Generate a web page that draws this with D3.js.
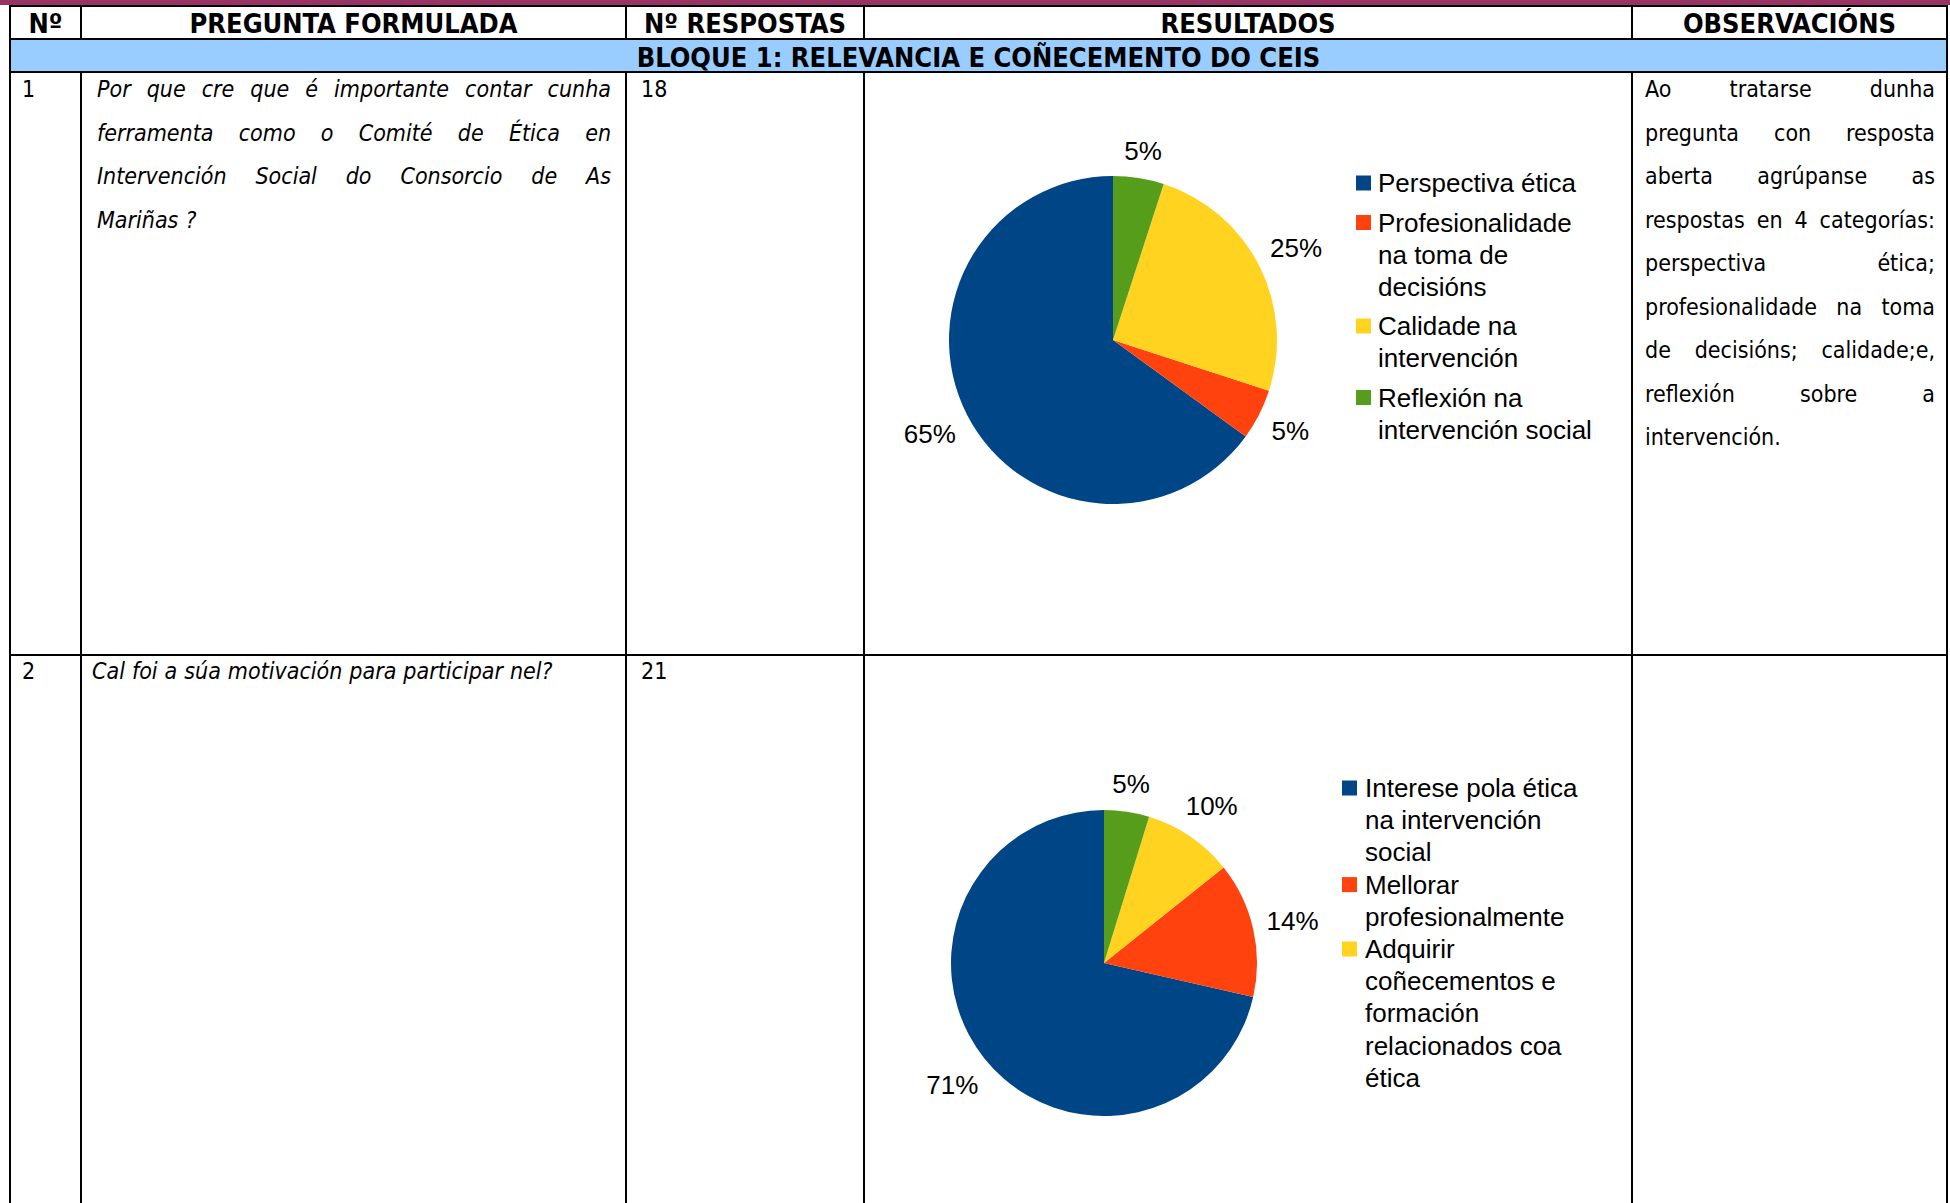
<!DOCTYPE html>
<html>
<head>
<meta charset="utf-8">
<script src="https://cdn.jsdelivr.net/npm/d3@7"></script>
<style>
  body { margin: 0; background: #fff; }
  svg { display: block; }
</style>
</head>
<body>
<svg id="chart"></svg>
<script>
const W = 1950, H = 1203;

// table content
const headers = ["Nº", "PREGUNTA FORMULADA", "Nº RESPOSTAS", "RESULTADOS", "OBSERVACIÓNS"];
const blockTitle = "BLOQUE 1: RELEVANCIA E COÑECEMENTO DO CEIS";
const rowNumbers = ["1", "2"];
const answerCounts = ["18", "21"];
const question1 = ["Por que cre que é importante contar cunha", "ferramenta como o Comité de Ética en",
  "Intervención Social do Consorcio de As", "Mariñas ?"];
const question2 = ["Cal foi a súa motivación para participar nel?"];
const observation1 = ["Ao tratarse dunha", "pregunta con resposta", "aberta agrúpanse as",
  "respostas en 4 categorías:", "perspectiva ética;", "profesionalidade na toma",
  "de decisións; calidade;e,", "reflexión sobre a", "intervención."];

// pie data
const pie1Categories = [["Perspectiva ética"], ["Profesionalidade", "na toma de", "decisións"],
  ["Calidade na", "intervención"], ["Reflexión na", "intervención social"]];
const pie1Values = [13, 1, 5, 1];
const pie2Categories = [["Interese pola ética", "na intervención", "social"], ["Mellorar", "profesionalmente"],
  ["Adquirir", "coñecementos e", "formación", "relacionados coa", "ética"]];
const pie2Values = [15, 3, 2, 1];
const sliceColors = ["#004586", "#ff420e", "#ffd320", "#579d1c"];

const tahoma = "'DejaVu Sans Condensed', 'DejaVu Sans', sans-serif";
const arial = "'Liberation Sans', Arial, sans-serif";

const colX = [10, 81, 626, 864, 1632, 1947];
const rowY = { top: 5, head: 39, band: 72, row1: 655, bottom: H };

const svg = d3.select("#chart").attr("width", W).attr("height", H);

// top band and blue block row
svg.append("rect").attr("x", 0).attr("y", 0).attr("width", W).attr("height", rowY.top)
  .attr("fill", "#993366");
svg.append("rect").attr("x", colX[0]).attr("y", rowY.head).attr("width", colX[5] - colX[0])
  .attr("height", rowY.band - rowY.head).attr("fill", "#99ccff");

// grid lines
const grid = svg.append("g").attr("stroke", "#000").attr("stroke-width", 2);
[rowY.top + 1, rowY.head, rowY.band, rowY.row1].forEach(y => {
  grid.append("line").attr("x1", colX[0]).attr("x2", colX[5]).attr("y1", y).attr("y2", y);
});
colX.forEach((x, i) => {
  const outer = i === 0 || i === colX.length - 1;
  grid.append("line").attr("x1", x).attr("x2", x).attr("y1", rowY.top).attr("y2", outer ? rowY.bottom : rowY.head);
  if (!outer) grid.append("line").attr("x1", x).attr("x2", x).attr("y1", rowY.band).attr("y2", rowY.bottom);
});

// header texts
headers.forEach((h, i) => {
  svg.append("text")
    .attr("x", (colX[i] + colX[i + 1]) / 2).attr("y", 33)
    .attr("text-anchor", "middle")
    .style("font-family", tahoma).style("font-weight", "bold").style("font-size", "27px")
    .text(h);
});
svg.append("text")
  .attr("x", (colX[0] + colX[5]) / 2).attr("y", 67)
  .attr("text-anchor", "middle")
  .style("font-family", tahoma).style("font-weight", "bold").style("font-size", "27px")
  .text(blockTitle);

// justified paragraph helper
const lineStep = 43.5;
function paragraph(lines, x0, x1, y0, italic) {
  const g = svg.append("g")
    .style("font-family", tahoma).style("font-size", "23px")
    .style("font-style", italic ? "italic" : "normal");
  lines.forEach((line, li) => {
    const y = y0 + li * lineStep;
    const words = line.split(" ");
    const last = li === lines.length - 1;
    const nodes = words.map(w => g.append("text").attr("y", y).text(w));
    const widths = nodes.map(n => n.node().getComputedTextLength());
    let gap = 7;
    if (!last && words.length > 1) {
      gap = (x1 - x0 - d3.sum(widths)) / (words.length - 1);
    }
    let x = x0;
    nodes.forEach((n, k) => {
      n.attr("x", x);
      x += widths[k] + gap;
    });
  });
}

function cellText(txt, x, y) {
  svg.append("text").attr("x", x).attr("y", y)
    .style("font-family", tahoma).style("font-size", "23px").text(txt);
}

// row 1
cellText(rowNumbers[0], 22, 97);
paragraph(question1, 97, 611, 97, true);
cellText(answerCounts[0], 641, 97);
paragraph(observation1, 1645, 1935, 97, false);

// row 2
cellText(rowNumbers[1], 22, 679);
paragraph(question2, 92, 611, 679, true);
cellText(answerCounts[1], 641, 679);

// pies
function drawPie(values, categories, cx, cy, r, legend) {
  const total = d3.sum(values);
  const pie = d3.pie().sort(null).startAngle(0).endAngle(-2 * Math.PI);
  const arc = d3.arc().innerRadius(0).outerRadius(r);
  const arcs = pie(values);
  const g = svg.append("g").attr("transform", `translate(${cx},${cy})`);

  g.selectAll("path.slice")
    .data(arcs)
    .enter()
    .append("path")
    .attr("class", "slice")
    .attr("d", arc)
    .attr("fill", (d, i) => sliceColors[i]);

  // percentage labels just outside each slice
  const fmt = d3.format(".0%");
  arcs.forEach(d => {
    const a = (d.startAngle + d.endAngle) / 2;
    const t = g.append("text")
      .attr("text-anchor", "middle")
      .style("font-family", arial).style("font-size", "26px")
      .text(fmt(d.value / total));
    const w = t.node().getComputedTextLength();
    const dist = r + 12 + Math.abs(Math.sin(a)) * w / 2 + Math.abs(Math.cos(a)) * 14;
    t.attr("x", Math.sin(a) * dist).attr("y", -Math.cos(a) * dist + 10);
  });

  // legend
  const lg = svg.append("g");
  let y = legend.y;
  categories.forEach((lines, i) => {
    lg.append("rect")
      .attr("x", legend.sx).attr("y", y - 7.5)
      .attr("width", 15).attr("height", 15)
      .attr("fill", sliceColors[i]);
    lines.forEach((ln, k) => {
      lg.append("text")
        .attr("x", legend.tx).attr("y", y + 9 + k * legend.step)
        .style("font-family", arial).style("font-size", "26px")
        .text(ln);
    });
    y += lines.length * legend.step + legend.gap;
  });
}

drawPie(pie1Values, pie1Categories, 1113, 340, 164, { sx: 1356, tx: 1378, y: 183, step: 32, gap: 7.5 });
drawPie(pie2Values, pie2Categories, 1104, 963, 153, { sx: 1342, tx: 1365, y: 788, step: 32.2, gap: 0 });
</script>
</body>
</html>
